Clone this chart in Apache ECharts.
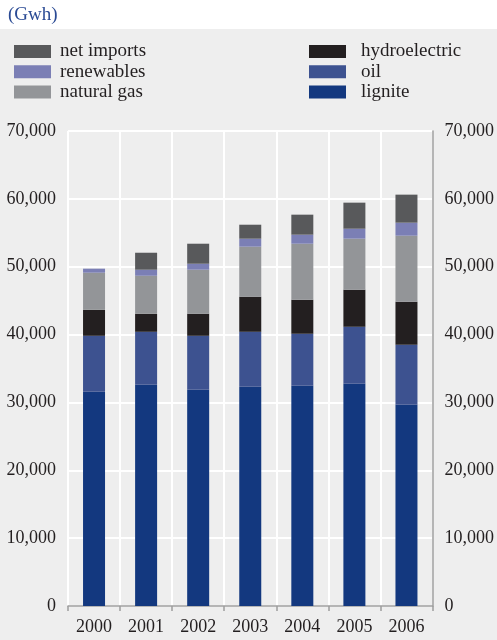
<!DOCTYPE html>
<html>
<head>
<meta charset="utf-8">
<script src="https://cdn.jsdelivr.net/npm/echarts@6/dist/echarts.min.js"></script>
<style>
  html, body { margin: 0; padding: 0; background: #fff; }
  #main { width: 497px; height: 640px; }
</style>
</head>
<body>
<div id="main"></div>
<script>
// years on the x axis
var years = ['2000', '2001', '2002', '2003', '2004', '2005', '2006'];

// values in Gwh, stacked bottom to top
var lignite      = [31560, 32600, 31860, 32300, 32450, 32740, 29650];
var oil          = [8260, 7810, 7960, 8110, 7670, 8410, 8850];
var hydroelectric = [3840, 2660, 3250, 5170, 5010, 5460, 6340];
var naturalGas   = [5460, 5600, 6490, 7370, 8260, 7520, 9730];
var renewables   = [590, 890, 880, 1180, 1330, 1470, 1920];
var netImports   = [0, 2500, 2950, 2060, 2950, 3840, 4130];

// colours
var colors = {
  'lignite': '#13387f',
  'oil': '#3d5290',
  'hydroelectric': '#231f20',
  'natural gas': '#939598',
  'renewables': '#7b7fb5',
  'net imports': '#58595b'
};

var serif = '"Liberation Serif", "DejaVu Serif", serif';
var textColor = '#231f20';

function fmt(v) {
  return v.toLocaleString('en-US');
}

function bar(name, data) {
  return {
    name: name,
    type: 'bar',
    stack: 'total',
    barWidth: 22,
    itemStyle: { color: colors[name] },
    data: data
  };
}

var chart = echarts.init(document.getElementById('main'), null, { renderer: 'canvas' });

var option = {
  animation: false,
  graphic: [{
    type: 'rect',
    z: -10,
    shape: { x: 0, y: 29, width: 497, height: 611 },
    style: { fill: '#eeeeee' }
  }],
  title: {
    text: '(Gwh)',
    left: 3,
    top: 1,
    textStyle: { fontFamily: serif, fontSize: 19, fontWeight: 'normal', color: '#2a4a94' }
  },
  legend: [{
    orient: 'vertical',
    left: 9,
    top: 37,
    itemWidth: 37,
    itemHeight: 13,
    itemGap: 1.2,
    icon: 'rect',
    data: ['net imports', 'renewables', 'natural gas'],
    textStyle: { fontFamily: serif, fontSize: 19, color: textColor, padding: [0, 0, 0, 4] }
  }, {
    orient: 'vertical',
    left: 304,
    top: 37,
    itemWidth: 37,
    itemHeight: 13,
    itemGap: 1.2,
    icon: 'rect',
    data: ['hydroelectric', 'oil', 'lignite'],
    textStyle: { fontFamily: serif, fontSize: 19, color: textColor, padding: [0, 0, 0, 10] }
  }],
  grid: { left: 68, right: 62, top: 131, bottom: 34 },
  xAxis: {
    type: 'category',
    data: years,
    axisLine: { lineStyle: { color: '#9d9d9d', width: 1.5 } },
    axisTick: { show: true, length: 5, lineStyle: { color: '#9d9d9d', width: 1.5 } },
    axisLabel: { fontFamily: serif, fontSize: 18, color: textColor, margin: 12 },
    splitLine: { show: true, interval: 0, lineStyle: { color: '#ffffff', width: 2 } }
  },
  yAxis: [{
    type: 'value',
    min: 0,
    max: 70000,
    interval: 10000,
    position: 'left',
    axisLine: { show: false },
    axisTick: { show: false },
    axisLabel: { fontFamily: serif, fontSize: 18, color: textColor, margin: 12, formatter: fmt },
    splitLine: { show: true, lineStyle: { color: '#ffffff', width: 2 } }
  }, {
    type: 'value',
    min: 0,
    max: 70000,
    interval: 10000,
    position: 'right',
    axisLine: { show: true, lineStyle: { color: '#9d9d9d', width: 1.5 } },
    axisTick: { show: false },
    axisLabel: { fontFamily: serif, fontSize: 18, color: textColor, margin: 12, formatter: fmt },
    splitLine: { show: false }
  }],
  series: [
    bar('lignite', lignite),
    bar('oil', oil),
    bar('hydroelectric', hydroelectric),
    bar('natural gas', naturalGas),
    bar('renewables', renewables),
    bar('net imports', netImports)
  ]
};

chart.setOption(option);
</script>
</body>
</html>
